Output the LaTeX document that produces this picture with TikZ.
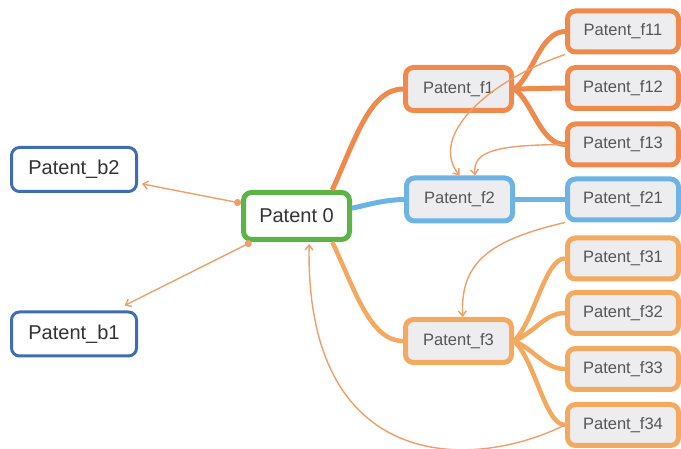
\documentclass[tikz,border=0pt]{standalone}
\usepackage{fontspec}
\setmainfont{Liberation Sans}
\usetikzlibrary{arrows.meta}
\definecolor{orA}{HTML}{EE8B4C}
\definecolor{orB}{HTML}{F4A961}
\definecolor{thinor}{HTML}{F09E68}
\definecolor{bluF}{HTML}{6DB3E3}
\definecolor{bluB}{HTML}{3F6DB3}
\definecolor{grnP}{HTML}{5DB446}
\definecolor{fillg}{HTML}{EDECEF}
\definecolor{txtM}{HTML}{333333}
\definecolor{txtF}{HTML}{555555}
\tikzset{
  bnode/.style={draw=bluB, line width=3pt, fill=white, rounded corners=8pt,
    minimum width=125pt, minimum height=44pt, inner sep=0pt, text=txtM,
    font=\fontsize{20}{24}\selectfont},
  pnode/.style={draw=grnP, line width=5pt, fill=white, rounded corners=8pt,
    minimum width=106pt, minimum height=47pt, inner sep=0pt, text=txtM,
    font=\fontsize{20}{24}\selectfont},
  fnode/.style={line width=5pt, fill=fillg, rounded corners=8pt,
    minimum width=106pt, minimum height=43pt, inner sep=0pt, text=txtF,
    font=\fontsize{16.5}{20}\selectfont},
  rnode/.style={fnode, minimum width=111pt, minimum height=41pt},
  thickA/.style={draw=orA, line width=5pt},
  thickB/.style={draw=orB, line width=4.5pt},
  thickC/.style={draw=bluF, line width=5pt},
  thinarr/.style={draw=thinor, line width=1.4pt, -{Straight Barb[length=5pt,width=8pt]}},
  dotarr/.style={draw=thinor, line width=1.4pt, {Circle[length=7pt]}-{Straight Barb[length=5pt,width=8pt]}},
}
\begin{document}
\begin{tikzpicture}[x=1pt,y=-1pt]
\useasboundingbox (0,0) rectangle (681,449);
% nodes
\node[bnode] (b2) at (74,169.5) {Patent\_b2};
\node[bnode] (b1) at (74,334) {Patent\_b1};
\node[pnode] (p0) at (296.5,216) {Patent 0};
\node[fnode, draw=orA] (f1) at (458.5,89) {Patent\_f1};
\node[fnode, draw=bluF] (f2) at (459.5,199.5) {Patent\_f2};
\node[fnode, draw=orB] (f3) at (458.5,341) {Patent\_f3};
\node[rnode, draw=orA] (f11) at (623,31.5) {Patent\_f11};
\node[rnode, draw=orA] (f12) at (623,88) {Patent\_f12};
\node[rnode, draw=orA] (f13) at (623,144.5) {Patent\_f13};
\node[rnode, draw=bluF] (f21) at (623,199.5) {Patent\_f21};
\node[rnode, draw=orB] (f31) at (623,258.5) {Patent\_f31};
\node[rnode, draw=orB] (f32) at (623,313) {Patent\_f32};
\node[rnode, draw=orB] (f33) at (623,369) {Patent\_f33};
\node[rnode, draw=orB] (f34) at (623,425) {Patent\_f34};
% thick connectors
\draw[thickA] (p0.36) .. controls (355,140) and (370,89) .. (f1.west);
\draw[thickC] (p0.8) .. controls (375,203) and (385,200) .. (f2.west);
\draw[thickB] (p0.-36) .. controls (355,290) and (370,341) .. (f3.west);
\draw[thickA] (f1.east) .. controls (532,78) and (540,31.5) .. (f11.west);
\draw[thickA] (f1.east) -- (f12.west);
\draw[thickA] (f1.east) .. controls (532,100) and (540,144.5) .. (f13.west);
\draw[thickC] (f2.east) -- (f21.west);
\draw[thickB] (f3.east) .. controls (535,320) and (545,258.5) .. (f31.west);
\draw[thickB] (f3.east) .. controls (535,332) and (545,313) .. (f32.west);
\draw[thickB] (f3.east) .. controls (535,350) and (545,369) .. (f33.west);
\draw[thickB] (f3.east) .. controls (535,360) and (545,425) .. (f34.west);
% thin arrows
\draw[dotarr, shorten >=4pt] (p0.167) -- (b2.-12);
\draw[dotarr, shorten >=11pt] (p0.-150) -- (b1.30);
\draw[thinarr] (f11.south west) .. controls (490,80) and (428,135) .. (f2.north);
\draw[thinarr] (f13.west) .. controls (500,145) and (472,150) .. (f2.57);
\draw[thinarr] (f21.south west) .. controls (490,240) and (460,262) .. (f3.80);
\draw[thinarr, shorten >=2pt] (f34.west) .. controls (470,472) and (305,472) .. (p0.-64);
\end{tikzpicture}
\end{document}
